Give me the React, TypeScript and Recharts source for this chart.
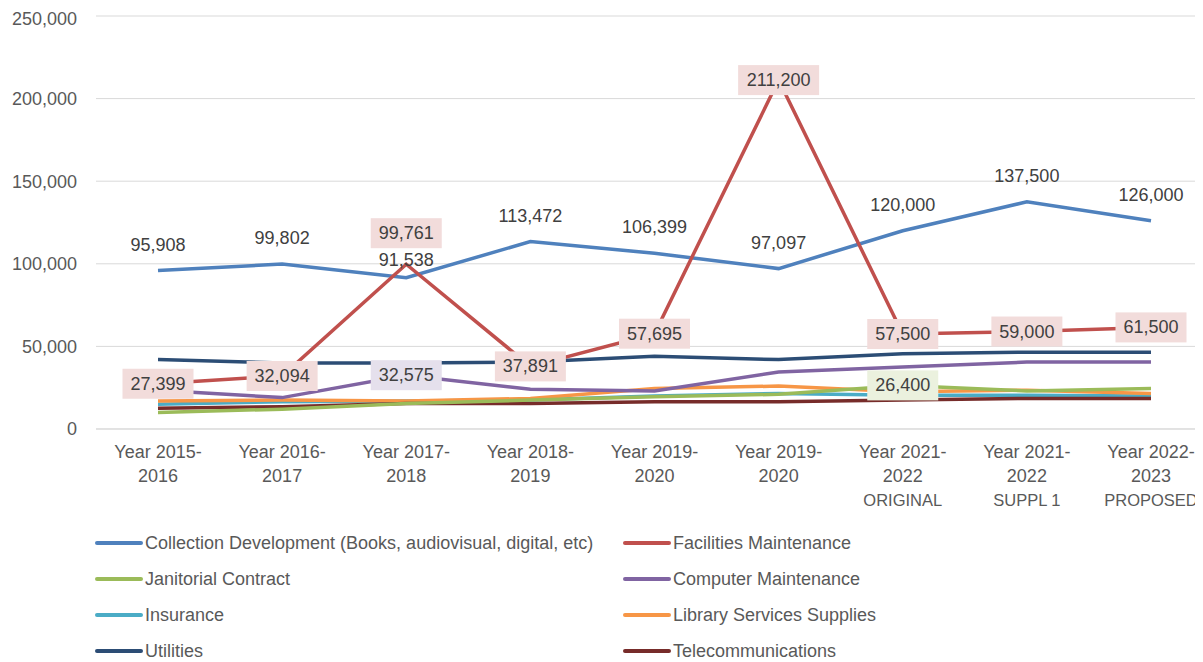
import { LineChart, Line, XAxis, YAxis, CartesianGrid, LabelList } from "recharts";

const categories = [
  "Year 2015-|2016",
  "Year 2016-|2017",
  "Year 2017-|2018",
  "Year 2018-|2019",
  "Year 2019-|2020",
  "Year 2019-|2020",
  "Year 2021-|2022|ORIGINAL",
  "Year 2021-|2022|SUPPL 1",
  "Year 2022-|2023|PROPOSED",
];

const collection = [95908, 99802, 91538, 113472, 106399, 97097, 120000, 137500, 126000];
const facilities = [27399, 32094, 99761, 37891, 57695, 211200, 57500, 59000, 61500];
const janitorial = [10000, 12000, 15500, 17500, 19500, 21000, 26400, 23000, 24500];
const computer = [23500, 19000, 32575, 24000, 23000, 34500, 37500, 40500, 40500];
const insurance = [15000, 16500, 17000, 17500, 20000, 21500, 20500, 20500, 20000];
const library = [17000, 17500, 17000, 18500, 24500, 26000, 22500, 23500, 21500];
const utilities = [42000, 40000, 40000, 40500, 44000, 42000, 45500, 46500, 46500];
const telecom = [12500, 13500, 15500, 15500, 16500, 16500, 17500, 18500, 18500];

const yTicks = [0, 50000, 100000, 150000, 200000, 250000];

const legendRows = [
  [
    { name: "Collection Development (Books, audiovisual, digital, etc)", color: "#4F81BD" },
    { name: "Facilities Maintenance", color: "#C0504D" },
  ],
  [
    { name: "Janitorial Contract", color: "#9BBB59" },
    { name: "Computer Maintenance", color: "#8064A2" },
  ],
  [
    { name: "Insurance", color: "#4BACC6" },
    { name: "Library Services Supplies", color: "#F79646" },
  ],
  [
    { name: "Utilities", color: "#2C4D75" },
    { name: "Telecommunications", color: "#772C2A" },
  ],
];

const data = categories.map((c, i) => ({
  idx: i,
  collection: collection[i],
  facilities: facilities[i],
  janitorial: janitorial[i],
  computer: computer[i],
  insurance: insurance[i],
  library: library[i],
  utilities: utilities[i],
  telecom: telecom[i],
}));

const FONT = "'Liberation Sans', Arial, sans-serif";
const fmt = (v: number) => v.toLocaleString("en-US");
const SW = 3.5;

function pointOf(props: any) {
  const vb = props.viewBox || {};
  const x = (vb.x ?? props.x) + (vb.width || 0) / 2;
  const y = (vb.y ?? props.y) + (vb.height || 0) / 2;
  return { x, y };
}

function boxLabel(bg: string, onlyIndex: number | null, liftIndex: number | null) {
  return (props: any) => {
    const { value, index } = props;
    if (onlyIndex !== null && index !== onlyIndex) return null;
    const { x, y } = pointOf(props);
    const text = fmt(value);
    const digits = text.replace(/,/g, "").length;
    const commas = text.length - digits;
    const w = digits * 10 + commas * 5 + 16;
    const h = 30;
    const cy = index === liftIndex ? y - 31 : y;
    return (
      <g>
        <rect x={x - w / 2} y={cy - h / 2} width={w} height={h} fill={bg} />
        <text x={x} y={cy} textAnchor="middle" dominantBaseline="central" fontSize={18} fill="#404040" fontFamily={FONT}>
          {text}
        </text>
      </g>
    );
  };
}

const topLabel = (props: any) => {
  const { x, y } = pointOf(props);
  const dy = props.index === 2 ? 12 : 20;
  return (
    <text x={x} y={y - dy} textAnchor="middle" fontSize={18} fill="#404040" fontFamily={FONT}>
      {fmt(props.value)}
    </text>
  );
};

const XTick = (props: any) => {
  const { x, y, payload } = props;
  const lines = categories[payload.value].split("|");
  return (
    <text x={x} y={y} textAnchor="middle" fontSize={18} fill="#595959" fontFamily={FONT}>
      {lines.map((l, i) => (
        <tspan key={i} x={x} dy={i === 0 ? 29 : 24} fontSize={i === 2 ? 16.5 : 18}>
          {l}
        </tspan>
      ))}
    </text>
  );
};

export default function App() {
  return (
    <div style={{ position: "relative", width: 1195, height: 654, overflow: "hidden", fontFamily: FONT }}>
      <LineChart width={1207} height={520} data={data} margin={{ top: 8, right: 0, left: 0, bottom: 0 }}>
        <CartesianGrid vertical={false} stroke="#D9D9D9" strokeWidth={1} />
        <XAxis
          dataKey="idx"
          type="category"
          axisLine={{ stroke: "#D9D9D9" }}
          tickLine={false}
          tickSize={0}
          tickMargin={0}
          height={99}
          interval={0}
          padding={{ left: 62, right: 64 }}
          tick={<XTick />}
        />
        <YAxis
          width={88}
          domain={[0, 250000]}
          ticks={yTicks}
          axisLine={false}
          tickLine={false}
          tickSize={0}
          tickMargin={19}
          tick={{ fontSize: 18, fill: "#595959", fontFamily: FONT }}
          tickFormatter={fmt}
        />
        <Line dataKey="utilities" stroke="#2C4D75" strokeWidth={SW} dot={false} isAnimationActive={false} />
        <Line dataKey="insurance" stroke="#4BACC6" strokeWidth={SW} dot={false} isAnimationActive={false} />
        <Line dataKey="library" stroke="#F79646" strokeWidth={SW} dot={false} isAnimationActive={false} />
        <Line dataKey="telecom" stroke="#772C2A" strokeWidth={SW} dot={false} isAnimationActive={false} />
        <Line dataKey="janitorial" stroke="#9BBB59" strokeWidth={SW} dot={false} isAnimationActive={false}>
          <LabelList dataKey="janitorial" content={boxLabel("#EBF1DE", 6, null)} />
        </Line>
        <Line dataKey="computer" stroke="#8064A2" strokeWidth={SW} dot={false} isAnimationActive={false}>
          <LabelList dataKey="computer" content={boxLabel("#E5E0EC", 2, null)} />
        </Line>
        <Line dataKey="collection" stroke="#4F81BD" strokeWidth={SW} dot={false} isAnimationActive={false}>
          <LabelList dataKey="collection" content={topLabel} />
        </Line>
        <Line dataKey="facilities" stroke="#C0504D" strokeWidth={SW} dot={false} isAnimationActive={false}>
          <LabelList dataKey="facilities" content={boxLabel("#F2DCDB", null, 2)} />
        </Line>
      </LineChart>
      <div style={{ position: "absolute", top: 517, left: 0, width: 1195 }}>
        {legendRows.map((row, r) => (
          <div key={r} style={{ position: "relative", height: 36 }}>
            {row.map((item, c) => (
              <div
                key={item.name}
                style={{
                  position: "absolute",
                  left: c === 0 ? 87 : 615,
                  top: 0,
                  height: 36,
                  display: "flex",
                  alignItems: "center",
                  whiteSpace: "nowrap",
                }}
              >
                <span style={{ display: "inline-block", width: 48, height: 4, borderRadius: 2, background: item.color, marginRight: 2 }} />
                <span style={{ fontSize: 18, color: "#595959" }}>{item.name}</span>
              </div>
            ))}
          </div>
        ))}
      </div>
    </div>
  );
}
